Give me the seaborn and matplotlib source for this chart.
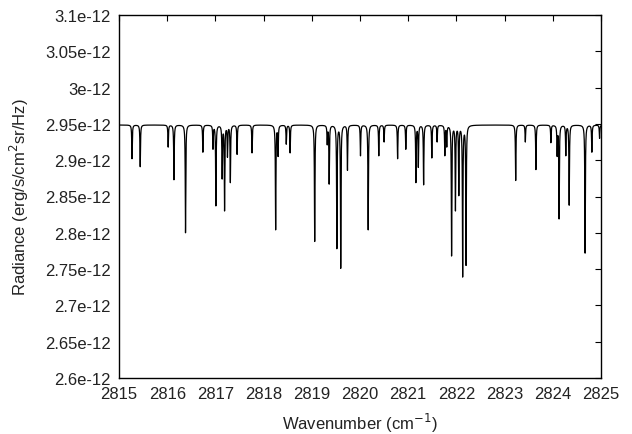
import numpy as np
import pandas as pd
import seaborn as sns
import matplotlib
matplotlib.use("Agg")
import matplotlib.pyplot as plt
from matplotlib.ticker import FixedLocator, FixedFormatter

# Continuum level of the spectrum (erg/s/cm^2/sr/Hz)
continuum = 2.9485e-12

# Absorption line centres (cm^-1) and the radiance reached at each line core (1e-12 units)
line_centers = [
    2815.27, 2815.44, 2816.02, 2816.14, 2816.38, 2816.74, 2816.95, 2817.01,
    2817.14, 2817.19, 2817.25, 2817.31, 2817.45, 2817.76, 2818.25, 2818.30,
    2818.47, 2818.55, 2819.06, 2819.32, 2819.36, 2819.52, 2819.60, 2819.74,
    2820.01, 2820.17, 2820.39, 2820.50, 2820.78, 2820.95, 2821.16, 2821.21,
    2821.32, 2821.49, 2821.60, 2821.76, 2821.80, 2821.90, 2821.98, 2822.05,
    2822.13, 2822.20, 2823.23, 2823.43, 2823.65, 2823.96, 2824.09, 2824.13,
    2824.27, 2824.34, 2824.67, 2824.81, 2824.97,
]
line_minima = [
    2.902, 2.891, 2.918, 2.873, 2.800, 2.911, 2.915, 2.837,
    2.874, 2.830, 2.904, 2.869, 2.908, 2.910, 2.804, 2.905,
    2.922, 2.910, 2.788, 2.921, 2.867, 2.778, 2.751, 2.886,
    2.906, 2.804, 2.906, 2.925, 2.902, 2.915, 2.869, 2.890,
    2.866, 2.903, 2.925, 2.906, 2.918, 2.768, 2.830, 2.851,
    2.739, 2.755, 2.872, 2.925, 2.887, 2.924, 2.905, 2.819,
    2.906, 2.838, 2.772, 2.911, 2.930,
]

x_ticks = [2815, 2816, 2817, 2818, 2819, 2820, 2821, 2822, 2823, 2824, 2825]
y_ticks = [2.6e-12, 2.65e-12, 2.7e-12, 2.75e-12, 2.8e-12, 2.85e-12,
           2.9e-12, 2.95e-12, 3.0e-12, 3.05e-12, 3.1e-12]
y_tick_labels = ["2.6e-12", "2.65e-12", "2.7e-12", "2.75e-12", "2.8e-12",
                 "2.85e-12", "2.9e-12", "2.95e-12", "3e-12", "3.05e-12", "3.1e-12"]

# Narrow Lorentzian line profile
hwhm = 0.0065


def profile(dx):
    return 1.0 / (1.0 + (dx / hwhm) ** 2)


centers = np.array(line_centers)
targets = continuum - np.array(line_minima) * 1e-12
# Solve for line strengths so overlapping wings still give the listed core radiance
overlap = profile(centers[:, None] - centers[None, :])
strengths = np.linalg.solve(overlap, targets)

wn = np.linspace(2815.0, 2825.0, 20001)
wn = np.sort(np.concatenate([wn, centers]))
radiance = continuum - (strengths[None, :] * profile(wn[:, None] - centers[None, :])).sum(axis=1)

df = pd.DataFrame({"Wavenumber": wn, "Radiance": radiance})

sns.set_theme(style="white")
plt.rcParams["font.family"] = ["Liberation Sans", "DejaVu Sans"]

fig = plt.figure(figsize=(6.32, 4.35), dpi=100)
ax = fig.add_axes([119 / 632, 1 - 379 / 435, (601 - 119) / 632, (379 - 16) / 435])

sns.lineplot(data=df, x="Wavenumber", y="Radiance", ax=ax, color="black",
             linewidth=0.9, estimator=None, sort=False)

ax.set_xlim(2815, 2825)
ax.set_ylim(2.6e-12, 3.1e-12)
ax.xaxis.set_major_locator(FixedLocator(x_ticks))
ax.set_xticklabels([str(t) for t in x_ticks])
ax.yaxis.set_major_locator(FixedLocator(y_ticks))
ax.yaxis.set_major_formatter(FixedFormatter(y_tick_labels))
ax.yaxis.get_offset_text().set_visible(False)

ax.tick_params(axis="both", which="major", direction="in", length=4, width=0.8,
               top=True, right=True, labelsize=12, colors="black", pad=6)
ax.tick_params(axis="both", labelcolor="#222222")
for sp in ax.spines.values():
    sp.set_color("black")
    sp.set_linewidth(1.0)

ax.set_xlabel("Wavenumber (cm$^{-1}$)", fontsize=12, color="#222222", labelpad=7)
ax.set_ylabel("Radiance (erg/s/cm$^{2}$sr/Hz)", fontsize=12, color="#222222", labelpad=10)

fig.savefig("out.png", dpi=100, facecolor="white")
